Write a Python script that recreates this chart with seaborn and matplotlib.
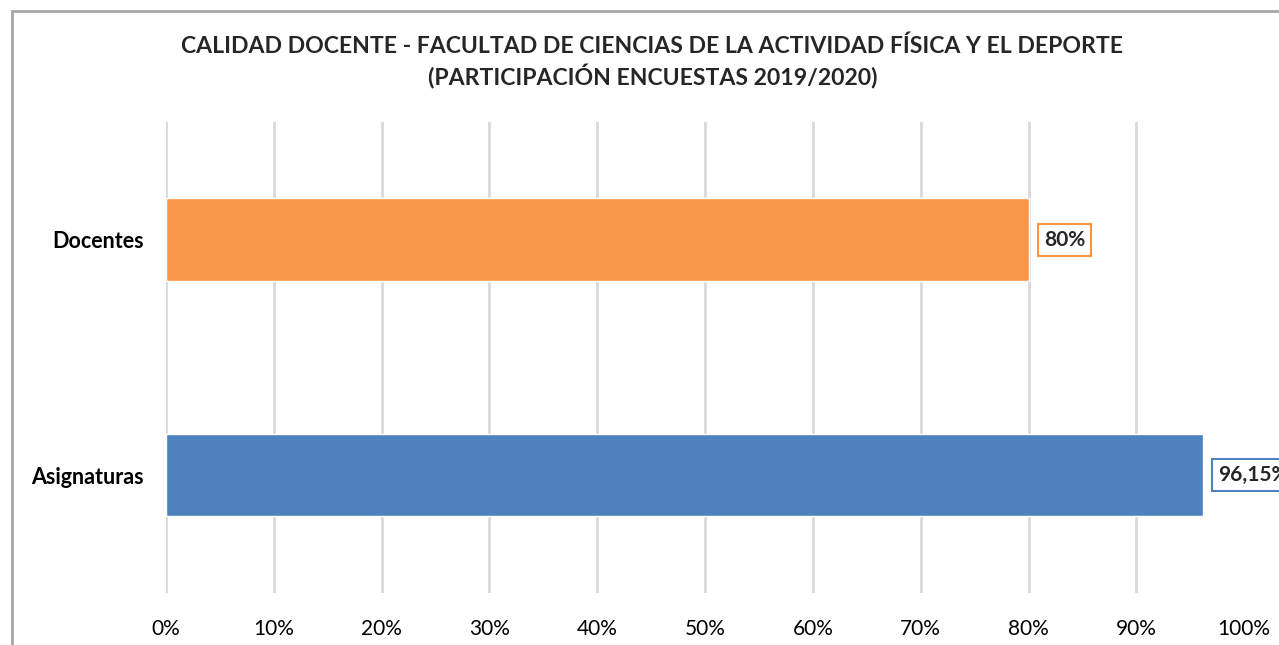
import matplotlib
matplotlib.use("Agg")
import matplotlib.pyplot as plt
import seaborn as sns
import pandas as pd
from matplotlib.patches import Rectangle

# datos
categorias = ["Docentes", "Asignaturas"]
valores = [0.80, 0.9615]
etiquetas = ["80%", "96,15%"]
colores = ["#F79646", "#4F81BD"]
ticks = [i / 10 for i in range(11)]
tick_labels = [f"{i * 10}%" for i in range(11)]
titulo = ("CALIDAD DOCENTE - FACULTAD DE CIENCIAS DE LA ACTIVIDAD FÍSICA Y EL DEPORTE\n"
          "(PARTICIPACIÓN ENCUESTAS 2019/2020)")

df = pd.DataFrame({"categoria": categorias, "valor": valores})

sns.set_style("white")
plt.rcParams['font.family'] = ['Lato', 'DejaVu Sans']

fig = plt.figure(figsize=(12.79, 6.45), dpi=100)
ax = fig.add_axes([0.1298, 0.0806, 0.8430, 0.7304])

sns.barplot(data=df, y="categoria", x="valor", hue="categoria", palette=colores,
            orient="h", width=0.35, legend=False, ax=ax, saturation=1, zorder=3)

ax.set_xlim(0, 1)
ax.set_ylim(1.5, -0.5)
ax.set_xticks(ticks)
ax.set_xticklabels(tick_labels, fontsize=15, color="#000000")
ax.tick_params(axis="x", length=0, pad=19)
ax.tick_params(axis="y", length=0, pad=16)
for lbl in ax.get_yticklabels():
    lbl.set_fontweight("bold")
    lbl.set_fontsize(15.5)
    lbl.set_color("#000000")
ax.set_xlabel("")
ax.set_ylabel("")

ax.grid(axis="x", color="#D9D9D9", linewidth=2, zorder=0)
ax.xaxis.get_gridlines()[-1].set_visible(False)
for s in ax.spines.values():
    s.set_visible(False)

# etiquetas de datos con recuadro
for i, (v, t) in enumerate(zip(valores, etiquetas)):
    ax.annotate(t, xy=(v, i), xytext=(11, 0), textcoords="offset points",
                ha="left", va="center", fontsize=15, fontweight="bold",
                bbox=dict(boxstyle="square,pad=0.28", fc="white", ec=colores[i], lw=1.5),
                annotation_clip=False, zorder=5)

fig.text(0.51, 0.903, titulo, ha="center", va="center", fontsize=16.6,
         fontweight="bold", linespacing=1.35)

# borde del gráfico
fig.patches.append(Rectangle((12 / 1279, -0.1), 1.2, 1 - 11 / 645 + 0.1,
                             transform=fig.transFigure, fill=False,
                             ec="#A6A6A6", lw=2))

fig.savefig("out.png", dpi=100)
